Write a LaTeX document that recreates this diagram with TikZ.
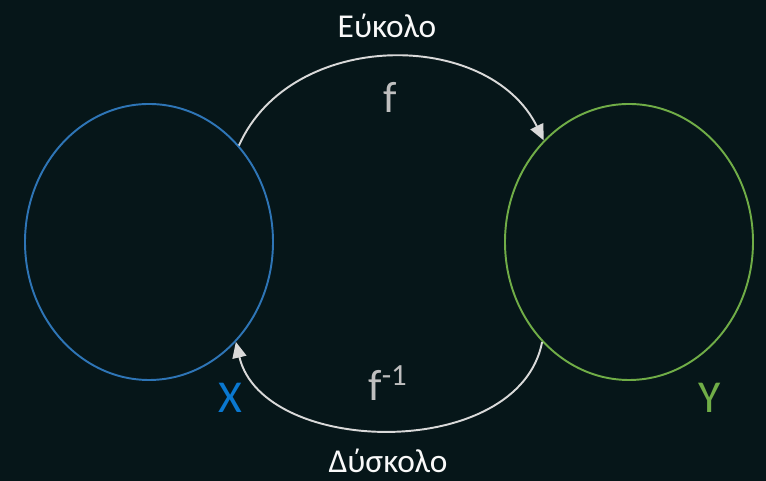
\documentclass[tikz,border=0pt]{standalone}
\usepackage{fontspec}
\setmainfont{Carlito}
\usetikzlibrary{shapes.geometric, arrows.meta, positioning}
\usepackage{xcolor}

\definecolor{bgdark}{HTML}{061619}
\definecolor{setblue}{HTML}{2E75B6}
\definecolor{labelblue}{HTML}{0A78D0}
\definecolor{setgreen}{HTML}{70AD47}
\definecolor{arrowgray}{HTML}{D9D9D9}
\definecolor{fgray}{HTML}{BFBFBF}

\begin{document}
\begin{tikzpicture}[
        % Set styles
        setbox/.style={ellipse, draw, line width=1.1pt, minimum width=4.96cm, minimum height=5.52cm, inner sep=0pt},
        maplabel/.style={text=fgray, font=\fontsize{25}{30}\selectfont, anchor=base, inner sep=0pt},
        wordlabel/.style={text=white!95!gray, font=\fontsize{19}{23}\selectfont, anchor=base, inner sep=0pt},
        setlabel/.style={font=\fontsize{26}{31}\selectfont, anchor=base, inner sep=0pt},
        arrow/.style={draw=arrowgray, line width=1.1pt, -{Triangle[length=9pt, width=8pt]}}
    ]

    % --- BACKGROUND ---
    \fill [bgdark] (0,0) rectangle (15.32,9.62);
    \useasboundingbox (0,0) rectangle (15.32,9.62);

    % --- THE TWO SETS ---
    \node (setX) [setbox, draw=setblue] at (2.98,4.78) {};
    \node (setY) [setbox, draw=setgreen] at (12.58,4.78) {};

    \node (nameX) [setlabel, text=labelblue] at (4.6,1.36) {X};
    \node (nameY) [setlabel, text=setgreen] at (14.2,1.36) {Y};

    % --- LABELS ---
    \node (easy) [wordlabel] at (7.74,8.86) {Εύκολο};
    \node (fwd) [maplabel] at (7.8,7.36) {f};
    \node (inv) [maplabel] at (7.76,1.6) {f\textsuperscript{-1}};
    \node (hard) [wordlabel] at (7.76,0.16) {Δύσκολο};

    % --- THE MAPPINGS ---
    \draw [arrow] (setX.47) .. controls +(1.04,2.34) and +(-1.1,2.24) .. (setY.130);
    \draw [arrow] (setY.229) .. controls +(-0.46,-2.4) and +(0.54,-2.3) .. (setX.-49);

\end{tikzpicture}
\end{document}
